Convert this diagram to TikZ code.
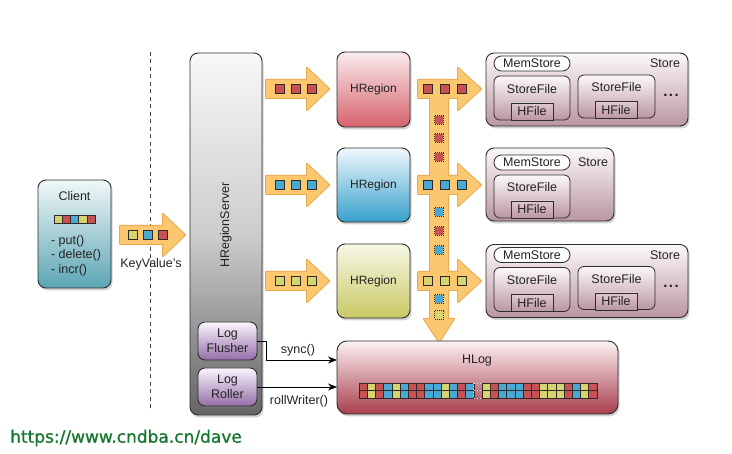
\documentclass[tikz,border=0pt]{standalone}
\usepackage{fontspec}
\setmainfont{Liberation Sans}
\newfontfamily\wmfont[FakeBold=1]{DejaVu Sans}
\usetikzlibrary{shadows,arrows.meta}
\definecolor{txt}{RGB}{35,35,35}
\definecolor{boxline}{RGB}{45,45,45}
\definecolor{arrfill}{RGB}{251,200,112}
\definecolor{arrline}{RGB}{236,168,78}
\definecolor{cR}{RGB}{198,82,84}
\definecolor{cB}{RGB}{72,170,212}
\definecolor{cY}{RGB}{214,212,112}
\definecolor{sqline}{RGB}{50,40,40}
\definecolor{regRt}{RGB}{250,236,238}
\definecolor{regRb}{RGB}{214,98,108}
\definecolor{regBt}{RGB}{240,248,252}
\definecolor{regBb}{RGB}{55,160,205}
\definecolor{regYt}{RGB}{248,248,230}
\definecolor{regYb}{RGB}{200,200,100}
\definecolor{cliT}{RGB}{240,248,248}
\definecolor{cliB}{RGB}{92,165,180}
\definecolor{srvT}{RGB}{248,248,248}
\definecolor{srvM}{RGB}{205,205,205}
\definecolor{srvB}{RGB}{100,100,100}
\definecolor{logT}{RGB}{250,245,252}
\definecolor{logB}{RGB}{150,110,170}
\definecolor{stT}{RGB}{252,248,248}
\definecolor{stB}{RGB}{186,150,160}
\definecolor{hfT}{RGB}{222,200,206}
\definecolor{hlT}{RGB}{252,242,242}
\definecolor{hlB}{RGB}{168,62,78}
\definecolor{wmgreen}{RGB}{22,120,45}
\definecolor{dashc}{RGB}{70,70,70}
\newcommand\RArr[4]{(#1,#4-9) -- (#2,#4-9) -- (#2,#4-21) -- (#3,#4) -- (#2,#4+21) -- (#2,#4+9) -- (#1,#4+9) -- cycle}
\newcommand\VArr{(430,80) -- (448,80) -- (448,319) -- (454,319) -- (439,342) -- (424,319) -- (430,319) -- cycle}
\newcommand\bigstore[2]{%
  \node[box, minimum width=202pt, minimum height=73pt, top color=stT, bottom color=stB] (#2) at (587,89.5+#1) {};
  \node[pill] (#2m) at (532,63.5+#1) {MemStore};
  \node[lbl, anchor=east] (#2l) at (680,63.5+#1) {Store};
  \node[sfile, minimum width=76pt, minimum height=44pt] (#2f1) at (532,98+#1) {};
  \node[lbl] (#2f1t) at (532,89+#1) {StoreFile};
  \node[hfile] (#2h1) at (532,111.5+#1) {HFile};
  \node[sfile, minimum width=77pt, minimum height=43pt] (#2f2) at (616.5,96.5+#1) {};
  \node[lbl] (#2f2t) at (616.5,87.5+#1) {StoreFile};
  \node[hfile] (#2h2) at (616,110+#1) {HFile};
  \node[lbl, font=\fontsize{15}{15}\selectfont\bfseries] (#2d) at (671,95+#1) {.\hspace{1.5pt}.\hspace{1.5pt}.};
}
\begin{document}
\begin{tikzpicture}[x=1pt,y=-1pt, font=\fontsize{12.5}{14}\selectfont,
  box/.style={draw=boxline, line width=0.9pt, rounded corners=8pt, inner sep=0pt, outer sep=0pt, text=txt,
    drop shadow={opacity=0.35, shadow xshift=1.5pt, shadow yshift=-2.5pt}},
  lbl/.style={inner sep=0pt, outer sep=0pt, text=txt},
  pill/.style={draw=boxline, line width=0.8pt, rounded corners=7.5pt, minimum width=76pt, minimum height=15pt, fill=white, inner sep=0pt, text=txt},
  sfile/.style={draw=boxline, line width=0.8pt, rounded corners=6pt, inner sep=0pt, top color=stT, bottom color=stB},
  hfile/.style={draw=boxline, line width=0.8pt, minimum width=42pt, minimum height=17pt, inner sep=0pt, top color=hfT, bottom color=stB, text=txt},
  sq/.style={draw=sqline, line width=0.6pt, minimum size=8.5pt, inner sep=0pt},
  dsq/.style={sq, dash pattern=on 1pt off 1pt},
  conn/.style={draw=black, line width=0.8pt, -{Stealth[length=9pt,width=7pt]}},
  arrout/.style={draw=arrline, line width=2pt, line join=round},
  arrin/.style={fill=arrfill}
]
\fill[white] (0,0) rectangle (732,454);
\useasboundingbox (0,0) rectangle (732,454);

% dashed separator
\draw[dashc, line width=1pt, dash pattern=on 4pt off 3.5pt] (150,52) -- (150,412);

% fat arrows (outline pass, then fill pass)
\draw[arrout] \RArr{120}{163}{185}{235};
\draw[arrout] \RArr{266}{307}{329}{89};
\draw[arrout] \RArr{266}{307}{329}{185};
\draw[arrout] \RArr{266}{307}{329}{281};
\draw[arrout] \RArr{418}{458}{481}{89};
\draw[arrout] \RArr{418}{458}{481}{185};
\draw[arrout] \RArr{418}{458}{481}{281};
\draw[arrout] \VArr;
\fill[arrin] \RArr{120}{163}{185}{235};
\fill[arrin] \RArr{266}{307}{329}{89};
\fill[arrin] \RArr{266}{307}{329}{185};
\fill[arrin] \RArr{266}{307}{329}{281};
\fill[arrin] \RArr{418}{458}{481}{89};
\fill[arrin] \RArr{418}{458}{481}{185};
\fill[arrin] \RArr{418}{458}{481}{281};
\fill[arrin] \VArr;

% Client
\node[box, minimum width=73pt, minimum height=108pt, top color=cliT, bottom color=cliB] (client) at (74.5,234) {};
\node[lbl] (clientt) at (74.5,196) {Client};
\foreach \c [count=\i from 0] in {cY,cR,cB,cY,cR}
  \filldraw[fill=\c, draw=sqline, line width=0.6pt] (54+\i*8.2,215) rectangle ++(8.2,8);
\node[lbl, anchor=west] (cput) at (51,241) {- put()};
\node[lbl, anchor=west] (cdel) at (51,255.5) {- delete()};
\node[lbl, anchor=west] (cinc) at (51,270) {- incr()};

% KeyValue squares
\node[sq, fill=cY] (kv1) at (133,235) {};
\node[sq, fill=cB] (kv2) at (148,235) {};
\node[sq, fill=cR] (kv3) at (163,235) {};
\node[lbl] (kvl) at (151,264) {KeyValue's};

% HRegionServer
\node[box, minimum width=72pt, minimum height=362pt, top color=srvT, bottom color=srvB, middle color=srvM] (srv) at (226,234) {};
\node[lbl, rotate=90] (srvt) at (226,225) {HRegionServer};
\node[box, rounded corners=7pt, minimum width=59pt, minimum height=38pt, top color=logT, bottom color=logB, align=center, font=\fontsize{12.5}{15}\selectfont] (lf) at (227.5,341) {Log\\Flusher};
\node[box, rounded corners=7pt, minimum width=59pt, minimum height=38pt, top color=logT, bottom color=logB, align=center, font=\fontsize{12.5}{15}\selectfont] (lr) at (227.5,387) {Log\\Roller};

% arrow squares toward regions
\foreach \x [count=\i] in {280,296,312} {
  \node[sq, fill=cR] (ra\i) at (\x,89) {};
  \node[sq, fill=cB] (rb\i) at (\x,185) {};
  \node[sq, fill=cY] (rc\i) at (\x,281) {};
}

% HRegions
\node[box, minimum width=73pt, minimum height=75pt, top color=regRt, bottom color=regRb, font=\fontsize{12}{13}\selectfont] (r1) at (373.5,89.5) {HRegion};
\node[box, minimum width=73pt, minimum height=74pt, top color=regBt, bottom color=regBb, font=\fontsize{12}{13}\selectfont] (r2) at (373.5,185) {HRegion};
\node[box, minimum width=73pt, minimum height=74pt, top color=regYt, bottom color=regYb, font=\fontsize{12}{13}\selectfont] (r3) at (373.5,281) {HRegion};

% squares toward stores
\foreach \x [count=\i] in {428,445,462} {
  \node[sq, fill=cR] (sa\i) at (\x,89) {};
  \node[sq, fill=cB] (sb\i) at (\x,185) {};
  \node[sq, fill=cY] (sc\i) at (\x,281) {};
}
% dashed squares on the vertical arrow
\node[dsq, fill=cR] (v1) at (439,120) {};
\node[dsq, fill=cR] (v2) at (439,138) {};
\node[dsq, fill=cR] (v3) at (439,157) {};
\node[dsq, fill=cB] (v4) at (439,212) {};
\node[dsq, fill=cR] (v5) at (439,231) {};
\node[dsq, fill=cB] (v6) at (439,250) {};
\node[dsq, fill=cB] (v7) at (439,299) {};
\node[dsq, fill=cY] (v8) at (439,315) {};

% Stores
\bigstore{0}{st1}
\bigstore{191.5}{st3}
\node[box, minimum width=128pt, minimum height=73pt, top color=stT, bottom color=stB] (st2) at (550,184.5) {};
\node[pill] (st2m) at (532,162.5) {MemStore};
\node[lbl, anchor=east] (st2l) at (608,162.5) {Store};
\node[sfile, minimum width=76pt, minimum height=43pt] (st2f1) at (532,196.5) {};
\node[lbl] (st2f1t) at (532,187) {StoreFile};
\node[hfile] (st2h1) at (532,209.5) {HFile};

% HLog
\node[box, rounded corners=10pt, minimum width=281pt, minimum height=73pt, top color=hlT, bottom color=hlB] (hlog) at (477.5,377.5) {};
\node[lbl] (hlogt) at (477,360) {HLog};
\foreach \c [count=\i from 0] in {cR,cY,cR,cB,cY,cB,cR,cR,cB,cB,cY,cB,cR,cB} {
  \filldraw[fill=\c, draw=sqline, line width=0.6pt] (359+\i*8.2,383) rectangle ++(8.2,7.5);
  \filldraw[fill=\c, draw=sqline, line width=0.6pt] (359+\i*8.2,390.5) rectangle ++(8.2,7.5);
}
\draw[white!70!gray, line width=0.8pt, dash pattern=on 1.5pt off 1.5pt] (473.8,383) rectangle ++(8.2,15) (473.8,390.5) -- ++(8.2,0);
\foreach \c [count=\i from 0] in {cY,cR,cB,cB,cB,cR,cR,cY,cY,cY,cR,cB,cY,cR} {
  \filldraw[fill=\c, draw=sqline, line width=0.6pt] (482+\i*8.2,383) rectangle ++(8.2,7.5);
  \filldraw[fill=\c, draw=sqline, line width=0.6pt] (482+\i*8.2,390.5) rectangle ++(8.2,7.5);
}

% log connectors
\coordinate (sbend) at (266,360);
\draw[conn] (lf.east) -| (sbend) -- (hlog.west |- sbend);
\draw[conn] (lr.east) -- (hlog.west |- lr.east);
\node[lbl] (syncl) at (298,350) {sync()};
\node[lbl] (rolll) at (299,401) {rollWriter()};

% watermark
\node[inner sep=0pt, anchor=west, text=wmgreen, font=\wmfont\fontsize{17}{20}\selectfont] (wm) at (10,438) {https://www.cndba.cn/dave};
\end{tikzpicture}
\end{document}
